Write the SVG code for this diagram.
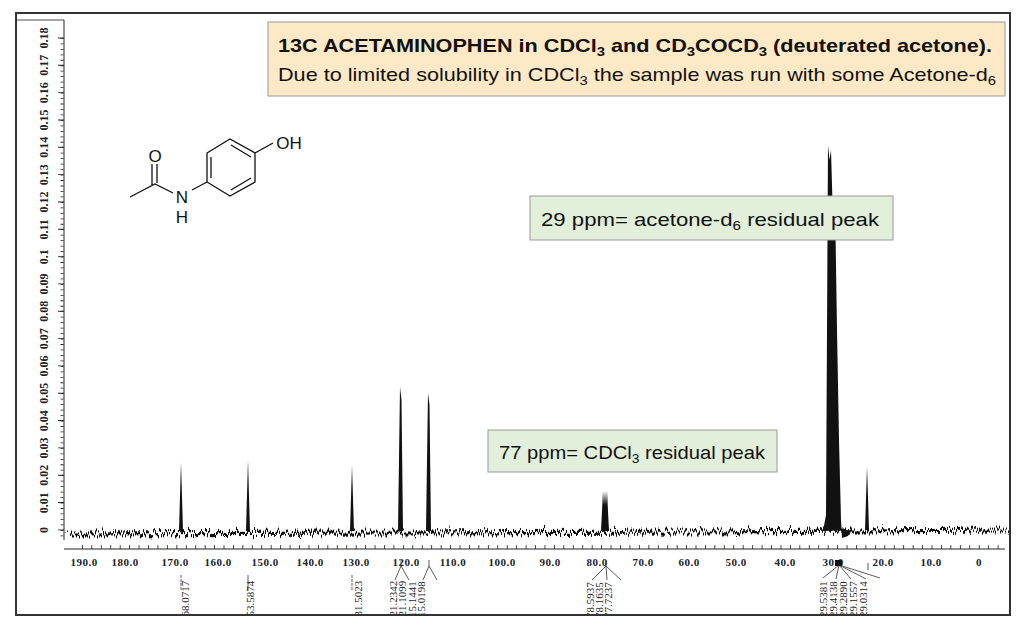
<svg xmlns="http://www.w3.org/2000/svg" width="1024" height="626" viewBox="0 0 1024 626">
<style>
.ax{stroke:#222;fill:none}
.yl{font-family:"Liberation Serif",serif;font-weight:bold;font-size:12px;fill:#222;text-anchor:middle}
.xl{font-family:"Liberation Serif",serif;font-weight:bold;font-size:11px;fill:#222;text-anchor:middle;letter-spacing:0.5px}
.pl{font-family:"Liberation Serif",serif;font-size:11px;fill:#222}
.bx{font-family:"Liberation Sans",Arial,sans-serif;font-size:19px;fill:#111}
.mol{font-family:"Liberation Sans",Arial,sans-serif;font-size:17px;fill:#111;text-anchor:middle}
.bond{stroke:#111;stroke-width:1.3;fill:none}
.pk{fill:#111}
.lead{stroke:#333;stroke-width:0.8;fill:none}
</style>
<defs>
<filter id="noise" x="-2%" y="-600%" width="104%" height="1300%">
<feTurbulence type="turbulence" baseFrequency="0.5 0.02" numOctaves="2" seed="3" result="t"/>
<feDisplacementMap in="SourceGraphic" in2="t" scale="13" xChannelSelector="R" yChannelSelector="G"/>
</filter>
<clipPath id="fr"><rect x="16" y="13" width="994" height="602"/></clipPath>
</defs>
<rect width="1024" height="626" fill="#fff"/>
<g id="axes">
<line class="ax" x1="64" y1="20" x2="64" y2="540" stroke-width="1"/>
<line class="ax" x1="17" y1="20" x2="64" y2="20" stroke="#aaa" stroke-width="0.8"/>
<line class="ax" x1="62" y1="38" x2="62" y2="540" stroke-width="3" stroke-dasharray="0.8 4.666"/>
<line class="ax" x1="61" y1="29.3" x2="61" y2="540" stroke-width="6" stroke-dasharray="0.9 26.43" stroke-dashoffset="-8.2"/>
<line class="ax" x1="64" y1="549" x2="1005" y2="549" stroke-width="1"/>
<line class="ax" x1="82" y1="547" x2="1005" y2="547" stroke-width="4" stroke-dasharray="0.8 8.64"/>
</g>
<g id="y-labels">
<text class="yl" transform="translate(48,530) rotate(-90)">0</text>
<text class="yl" transform="translate(48,502.7) rotate(-90)">0.01</text>
<text class="yl" transform="translate(48,475.3) rotate(-90)">0.02</text>
<text class="yl" transform="translate(48,448) rotate(-90)">0.03</text>
<text class="yl" transform="translate(48,420.7) rotate(-90)">0.04</text>
<text class="yl" transform="translate(48,393.3) rotate(-90)">0.05</text>
<text class="yl" transform="translate(48,366) rotate(-90)">0.06</text>
<text class="yl" transform="translate(48,338.7) rotate(-90)">0.07</text>
<text class="yl" transform="translate(48,311.3) rotate(-90)">0.08</text>
<text class="yl" transform="translate(48,284) rotate(-90)">0.09</text>
<text class="yl" transform="translate(48,256.7) rotate(-90)">0.1</text>
<text class="yl" transform="translate(48,229.3) rotate(-90)">0.11</text>
<text class="yl" transform="translate(48,202) rotate(-90)">0.12</text>
<text class="yl" transform="translate(48,174.7) rotate(-90)">0.13</text>
<text class="yl" transform="translate(48,147.3) rotate(-90)">0.14</text>
<text class="yl" transform="translate(48,120) rotate(-90)">0.15</text>
<text class="yl" transform="translate(48,92.7) rotate(-90)">0.16</text>
<text class="yl" transform="translate(48,65.3) rotate(-90)">0.17</text>
<text class="yl" transform="translate(48,38) rotate(-90)">0.18</text>
</g>
<g id="x-labels">
<text class="xl" x="84" y="566">190.0</text>
<text class="xl" x="125" y="566">180.0</text>
<text class="xl" x="175" y="566">170.0</text>
<text class="xl" x="218" y="566">160.0</text>
<text class="xl" x="265" y="566">150.0</text>
<text class="xl" x="310" y="566">140.0</text>
<text class="xl" x="356" y="566">130.0</text>
<text class="xl" x="406" y="566">120.0</text>
<text class="xl" x="453" y="566">110.0</text>
<text class="xl" x="502" y="566">100.0</text>
<text class="xl" x="550" y="566">90.0</text>
<text class="xl" x="597" y="566">80.0</text>
<text class="xl" x="643" y="566">70.0</text>
<text class="xl" x="689" y="566">60.0</text>
<text class="xl" x="736" y="566">50.0</text>
<text class="xl" x="785" y="566">40.0</text>
<text class="xl" x="833" y="566">30.0</text>
<text class="xl" x="883" y="566">20.0</text>
<text class="xl" x="931" y="566">10.0</text>
<text class="xl" x="979" y="566">0</text>
</g>
<g id="spectrum">
<path d="M66,531 L400,530 L700,529 L1005,527" stroke="#111" stroke-width="3.2" fill="none" filter="url(#noise)"/>
<path class="pk" d="M179,531 L181,462 L183,531Z"/>
<path class="pk" d="M246,531 L248,460 L250,531Z"/>
<path class="pk" d="M350,531 L352,465 L354,531Z"/>
<path class="pk" d="M398,531 L400,387 L401.5,400 L403,531Z"/>
<path class="pk" d="M426,531 L428,393 L429.5,405 L431,531Z"/>
<path class="pk" d="M601,531 L603,491 L604,505 L605,491 L606,505 L607,491 L609,531Z"/>
<path class="pk" d="M865,530 L867,466 L869,530Z"/>
<path class="pk" d="M823,531 L826,515 L828,145 L829.5,160 L831,150 L833,220 L835,200 L837,330 L839,440 L841,520 L842,538 L848,536 L852,530 L823,531Z"/>
</g>
<g id="peak-labels" clip-path="url(#fr)">
<line class="lead" x1="181" y1="575" x2="181" y2="590" stroke-dasharray="3 1"/>
<line class="lead" x1="248" y1="575" x2="248" y2="590"/>
<line class="lead" x1="352" y1="575" x2="352" y2="590" stroke-dasharray="3 1"/>
<path class="lead" d="M395,580 L401,566 L409,580 M401,566 L401,560"/>
<path class="lead" d="M423,580 L429,566 L437,580 M429,566 L429,560"/>
<path class="lead" d="M592,580 L606,566 L607,580 M606,566 L621,580 M606,566 L606,560"/>
<path class="lead" d="M823,578 L839,565 L836,579 M839,565 L851,579 M839,565 L866,579 M839,565 L880,578"/>
<rect x="835" y="560" width="7" height="6" fill="#111"/>
<line class="lead" x1="868" y1="563" x2="868" y2="570"/>
<g class="pl">
<text transform="translate(189,622) rotate(-90)">168.0717</text>
<text transform="translate(254,622) rotate(-90)">153.5874</text>
<text transform="translate(362,622) rotate(-90)">131.5023</text>
<text transform="translate(397,622) rotate(-90)">121.2342</text>
<text transform="translate(406,622) rotate(-90)">121.1099</text>
<text transform="translate(416,622) rotate(-90)">115.1441</text>
<text transform="translate(425,622) rotate(-90)">115.0198</text>
<text transform="translate(594,618) rotate(-90)">78.5937</text>
<text transform="translate(603,618) rotate(-90)">78.1635</text>
<text transform="translate(612,618) rotate(-90)">77.7237</text>
<text transform="translate(827,617) rotate(-90)">29.5381</text>
<text transform="translate(837,617) rotate(-90)">29.4138</text>
<text transform="translate(847,617) rotate(-90)">29.2890</text>
<text transform="translate(857,617) rotate(-90)">29.1557</text>
<text transform="translate(867,617) rotate(-90)">29.0314</text>
</g>
</g>
<g id="molecule">
<path class="bond" d="M130,197 L155,184 L173,193 M192,190 L207,182 M152,164 L152,185 M157,164 L157,183"/>
<path class="bond" d="M207,153 L230,139 L255,153 L255,182 L230,196 L207,182 Z M255,153 L273,143"/>
<path class="bond" d="M211,157 L211,178 M231,145 L251,157 M231,190 L251,178"/>
<text class="mol" x="155" y="162">O</text>
<text class="mol" x="182" y="203">N</text>
<text class="mol" x="182" y="223">H</text>
<text class="mol" x="289" y="149">OH</text>
</g>
<g id="title-box">
<rect x="268" y="22" width="737" height="74" fill="#fde9c5" stroke="#999" stroke-width="1"/>
<text class="bx" x="278" y="52" font-weight="bold" textLength="714" lengthAdjust="spacingAndGlyphs">13C ACETAMINOPHEN in CDCl<tspan font-size="13" dy="4">3</tspan><tspan dy="-4"> and CD</tspan><tspan font-size="13" dy="4">3</tspan><tspan dy="-4">COCD</tspan><tspan font-size="13" dy="4">3</tspan><tspan dy="-4"> (deuterated acetone).</tspan></text>
<text class="bx" x="278" y="81" textLength="718" lengthAdjust="spacingAndGlyphs">Due to limited solubility in CDCl<tspan font-size="13" dy="4">3</tspan><tspan dy="-4"> the sample was run with some Acetone-d</tspan><tspan font-size="13" dy="4">6</tspan></text>
</g>
<g id="box-29">
<rect x="530" y="196" width="363" height="44" fill="#e2efda" stroke="#999" stroke-width="1"/>
<text class="bx" x="541" y="226" textLength="338" lengthAdjust="spacingAndGlyphs">29 ppm= acetone-d<tspan font-size="13" dy="4">6</tspan><tspan dy="-4"> residual peak</tspan></text>
</g>
<g id="box-77">
<rect x="488" y="430" width="289" height="42" fill="#e2efda" stroke="#999" stroke-width="1"/>
<text class="bx" x="499" y="459" textLength="266" lengthAdjust="spacingAndGlyphs">77 ppm= CDCl<tspan font-size="13" dy="4">3</tspan><tspan dy="-4"> residual peak</tspan></text>
</g>
<rect x="16" y="13" width="994" height="602" fill="none" stroke="#333" stroke-width="2"/>
</svg>
